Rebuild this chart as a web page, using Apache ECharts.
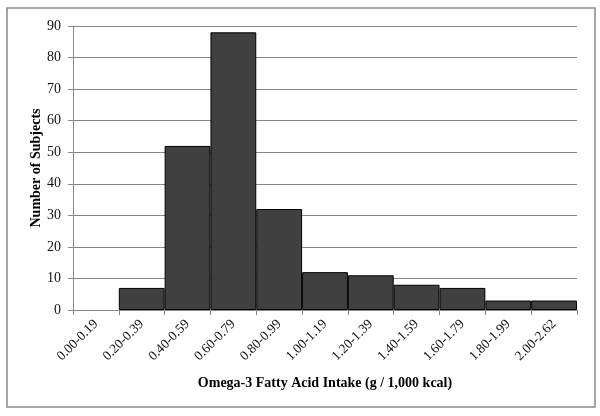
<!DOCTYPE html>
<html>
<head>
<meta charset="utf-8">
<script src="https://cdn.jsdelivr.net/npm/echarts@6/dist/echarts.min.js"></script>
<style>
  html, body { margin: 0; padding: 0; background: #fff; }
  #main { width: 600px; height: 416px; }
</style>
</head>
<body>
<div id="main"></div>
<script>
const categories = ['0.00-0.19', '0.20-0.39', '0.40-0.59', '0.60-0.79', '0.80-0.99',
  '1.00-1.19', '1.20-1.39', '1.40-1.59', '1.60-1.79', '1.80-1.99', '2.00-2.62']
const subjects = [0, 7, 52, 88, 32, 12, 11, 8, 7, 3, 3]
const yTicks = [0, 90, 10]  // min, max, step

const font = '"Liberation Serif", "Times New Roman", serif'

let myChart = echarts.init(document.getElementById('main'))
myChart.setOption({
  animation: false,
  backgroundColor: '#fff',
  textStyle: { fontFamily: font },
  graphic: [{
    type: 'rect',
    shape: { x: 7, y: 8, width: 588, height: 399 },
    style: { fill: 'none', stroke: '#8a8a8a', lineWidth: 1.5 },
    silent: true
  }],
  grid: { left: 73, right: 23, top: 26, bottom: 106 },
  xAxis: {
    type: 'category',
    data: categories,
    name: 'Omega-3 Fatty Acid Intake (g / 1,000 kcal)',
    nameLocation: 'middle',
    nameGap: 66,
    nameTextStyle: { fontFamily: font, fontWeight: 'bold', fontSize: 14, color: '#000' },
    axisLine: { lineStyle: { color: '#888', width: 1 } },
    axisTick: { show: true, alignWithLabel: false, length: 5, lineStyle: { color: '#888' } },
    axisLabel: { rotate: 45, fontFamily: font, fontSize: 13.5, color: '#111', margin: 12, interval: 0 }
  },
  yAxis: {
    type: 'value',
    min: yTicks[0],
    max: yTicks[1],
    interval: yTicks[2],
    name: 'Number of Subjects',
    nameLocation: 'middle',
    nameGap: 30,
    nameMoveOverlap: false,
    nameTextStyle: { fontFamily: font, fontWeight: 'bold', fontSize: 14, color: '#000' },
    axisLine: { show: true, lineStyle: { color: '#888', width: 1 } },
    axisTick: { show: true, length: 5, lineStyle: { color: '#888' } },
    axisLabel: { fontFamily: font, fontSize: 14, color: '#111', margin: 12 },
    splitLine: { lineStyle: { color: '#888', width: 1 } }
  },
  series: [{
    name: 'Subjects',
    type: 'bar',
    // empty bins draw nothing
    data: subjects.map(v => (v === 0 ? '-' : v)),
    barCategoryGap: 0,
    itemStyle: { color: '#404040', borderColor: '#000', borderWidth: 1 }
  }]
})
</script>
</body>
</html>
